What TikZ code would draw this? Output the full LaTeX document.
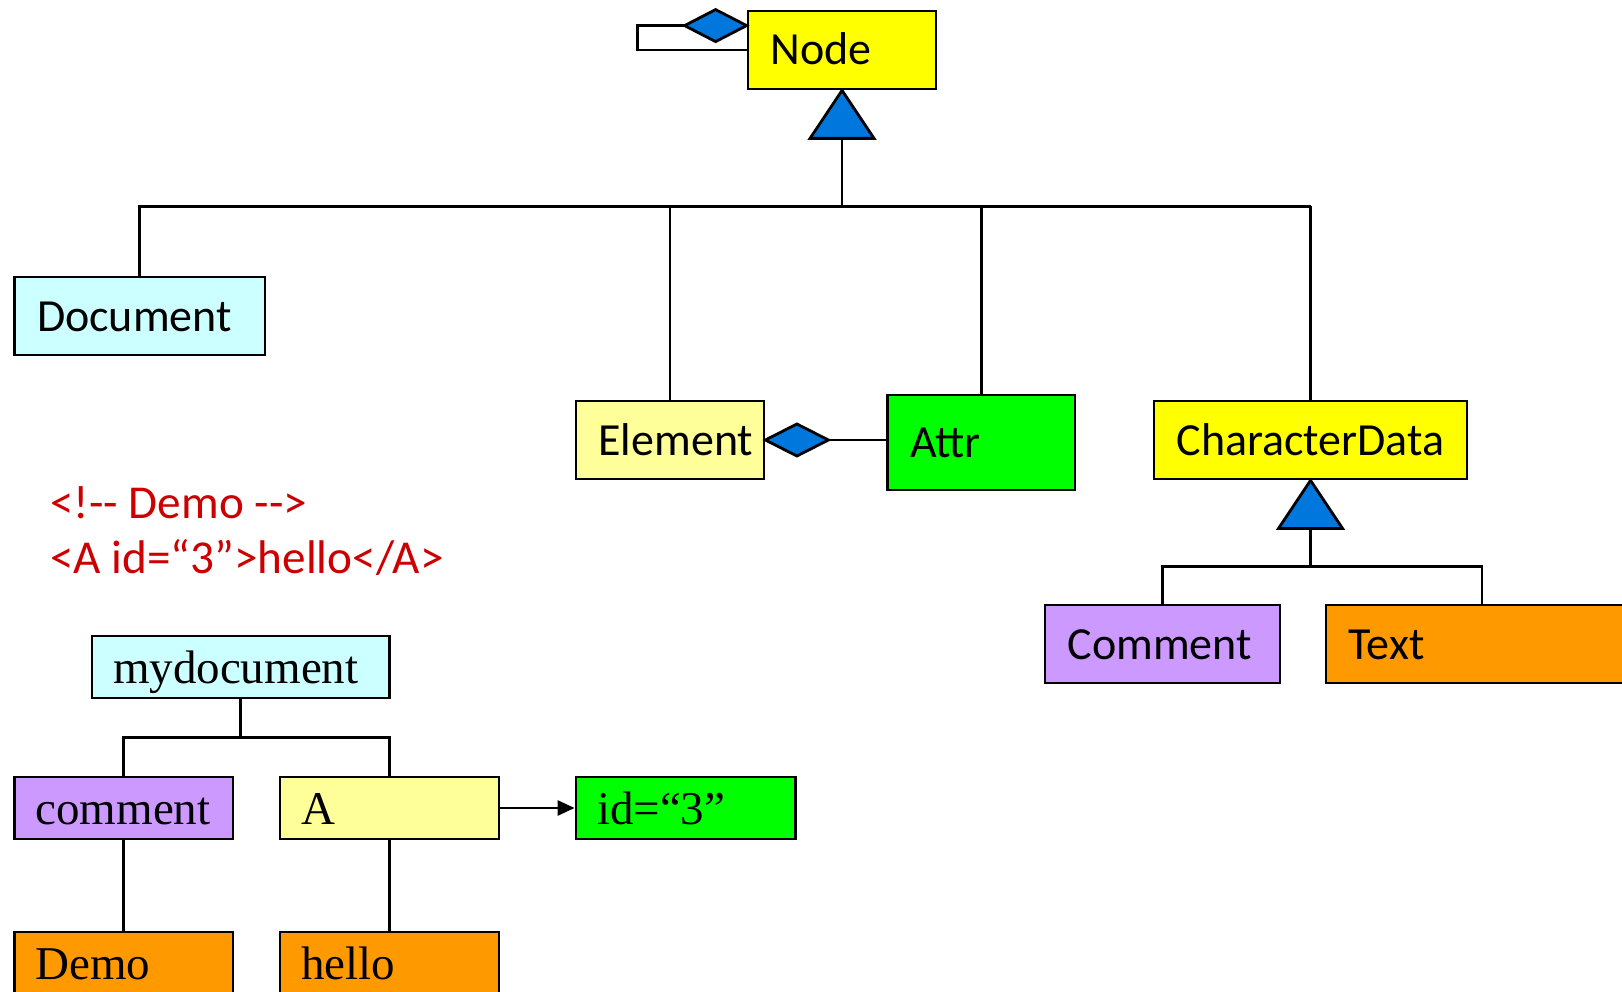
\documentclass[tikz,border=0pt]{standalone}
\usepackage{fontspec}
\newfontfamily\calib{Carlito}
\newfontfamily\tnr{Liberation Serif}
\usetikzlibrary{calc,arrows.meta}
\definecolor{umlblue}{RGB}{0,119,221}
\definecolor{ylw}{RGB}{255,255,0}
\definecolor{paleylw}{RGB}{255,255,153}
\definecolor{paleblue}{RGB}{204,255,255}
\definecolor{lime}{RGB}{0,255,0}
\definecolor{lilac}{RGB}{204,153,255}
\definecolor{amber}{RGB}{255,153,0}
\definecolor{xmlred}{RGB}{204,0,0}
\begin{document}
\begin{tikzpicture}[x=1pt,y=-1pt,line width=2.8pt,line join=miter,
  boxbase/.style={draw,rectangle,inner xsep=0pt,inner ysep=0pt,align=left,
    text depth=0pt},
  cls/.style={boxbase,text height=30pt,minimum height=78pt,
    execute at begin node={\hspace*{22.5pt}},
    font=\calib\fontsize{46}{55}\selectfont},
  inst/.style={boxbase,text height=32pt,minimum height=62pt,
    execute at begin node={\hspace*{21pt}},
    font=\tnr\fontsize{47}{56}\selectfont},
  umlhead/.style={draw,fill=umlblue},
  xmltext/.style={anchor=base west,inner sep=0pt,text=xmlred,
    font=\calib\fontsize{47.2}{56}\selectfont}]
\path[use as bounding box] (0,0) rectangle (1622,992);
\clip (0,0) rectangle (1622,992);
\fill[white] (0,0) rectangle (1622,992);

% ---- class hierarchy ----
\node[cls,fill=ylw,text width=188pt] (Node) at (842,50) {Node};
\node[cls,fill=paleblue,text width=250.5pt] (Document) at (139.75,316) {Document};
\node[cls,fill=paleylw,text width=188pt] (Element) at (670,440) {Element};
\node[cls,fill=lime,text width=187.5pt,minimum height=95pt] (Attr) at (981.25,442.5) {Attr};
\node[cls,fill=ylw,text width=313pt] (CharData) at (1310.5,440) {CharacterData};
\node[cls,fill=lilac,text width=235pt] (Comment) at (1162.5,644) {Comment};
\node[cls,fill=amber,text width=312pt] (Text) at (1482,644) {Text};

% self aggregation on Node
\coordinate (selfTip) at ($(Node.north west)+(0,16)$);
\draw[umlhead] (selfTip) -- ++(-31,-16) -- ++(-31,16) coordinate (selfEnd)
  -- ++(31,16) -- cycle;
\draw (selfEnd) -- ++(-47,0) |- (Node.west);

% generalization to Node
\draw[umlhead] (Node.south) -- ++(32,48) -- ++(-64,0) -- cycle;
\coordinate (nodeBase) at ($(Node.south)+(0,48)$);
\coordinate (bus) at ($(Node.south)+(0,116)$);
\draw (nodeBase) -- (bus);
\draw (Document.north) |- (CharData.north |- bus);
\draw (Element.north) -- (Element.north |- bus);
\draw (Attr.north) -- (Attr.north |- bus);
\draw (CharData.north) -- (CharData.north |- bus);

% Element aggregates Attr
\draw[umlhead] (Element.east) -- ++(31.5,-16) -- ++(31.5,16) coordinate (aggEnd)
  -- ++(-31.5,16) -- cycle;
\draw (aggEnd) -- (aggEnd -| Attr.west);

% generalization to CharacterData
\draw[umlhead] (CharData.south) -- ++(32,48) -- ++(-64,0) -- cycle;
\coordinate (cdBase) at ($(CharData.south)+(0,48)$);
\coordinate (cdBus) at ($(CharData.south)+(0,86)$);
\draw (cdBase) -- (cdBus);
\draw (Comment.north) |- (Text.north |- cdBus) -- (Text.north);

% ---- XML source ----
\node[xmltext] (xmlA) at (49,518.5) {<!-\kern0pt- Demo -\kern0pt->};
\node[xmltext] (xmlB) at (49,573.5) {<A id=“3”>hello</A>};

% ---- document tree ----
\node[inst,fill=paleblue,text width=297.5pt] (mydoc) at (240.75,667) {mydocument};
\node[inst,fill=lilac,text width=218.5pt] (cmt) at (123.75,808) {comment};
\node[inst,fill=paleylw,text width=219pt] (elA) at (389.5,808) {A};
\node[inst,fill=lime,text width=219.5pt] (attrId) at (685.75,808) {id=“3”};
\node[inst,fill=amber,text width=218.5pt] (demo) at (123.75,963) {Demo};
\node[inst,fill=amber,text width=219pt] (hello) at (389.5,963) {hello};

\coordinate (mBus) at ($(mydoc.south)+(0,38)$);
\draw (mydoc.south) -- (mBus);
\draw (cmt.north) |- (elA.north |- mBus) -- (elA.north);
\draw (cmt.south) -- (demo.north);
\draw (elA.south) -- (hello.north);
\draw[-{Triangle[length=17pt,width=15pt]}] (elA.east) -- (attrId.west);
\end{tikzpicture}
\end{document}
